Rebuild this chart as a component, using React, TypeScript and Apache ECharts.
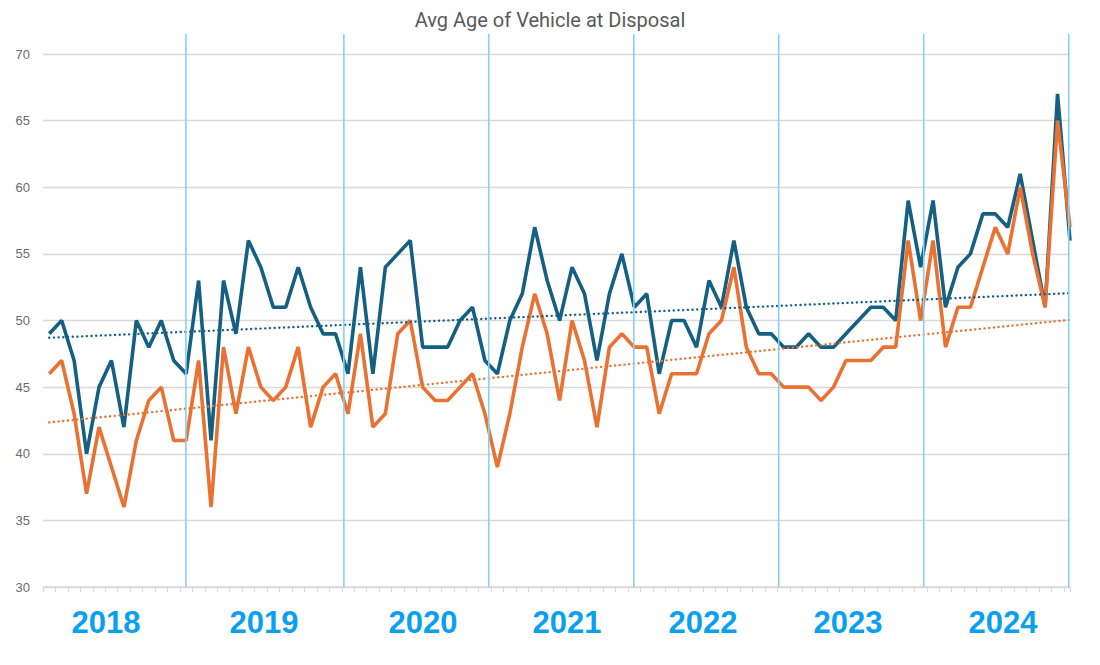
import { useEffect, useRef } from "react";
import * as echarts from "echarts";

// ---- data ----
const titleText = "Avg Age of Vehicle at Disposal";
const yearLabels = ["2018", "2019", "2020", "2021", "2022", "2023", "2024"];
const yTicks = [30, 35, 40, 45, 50, 55, 60, 65, 70];

// monthly values, Jan 2018 onward
const seriesA = [
  49, 50, 47, 40, 45, 47, 42, 50, 48, 50, 47, 46,
  53, 41, 53, 49, 56, 54, 51, 51, 54, 51, 49, 49,
  46, 54, 46, 54, 55, 56, 48, 48, 48, 50, 51, 47,
  46, 50, 52, 57, 53, 50, 54, 52, 47, 52, 55, 51,
  52, 46, 50, 50, 48, 53, 51, 56, 51, 49, 49, 48,
  48, 49, 48, 48, 49, 50, 51, 51, 50, 59, 54, 59,
  51, 54, 55, 58, 58, 57, 61, 56, 51, 67, 56,
];
const seriesB = [
  46, 47, 43, 37, 42, 39, 36, 41, 44, 45, 41, 41,
  47, 36, 48, 43, 48, 45, 44, 45, 48, 42, 45, 46,
  43, 49, 42, 43, 49, 50, 45, 44, 44, 45, 46, 43,
  39, 43, 48, 52, 49, 44, 50, 47, 42, 48, 49, 48,
  48, 43, 46, 46, 46, 49, 50, 54, 48, 46, 46, 45,
  45, 45, 44, 45, 47, 47, 47, 48, 48, 56, 50, 56,
  48, 51, 51, 54, 57, 55, 60, 55, 51, 65, 57,
];

// dotted trend lines as drawn in the original: [start value, end value]
const trendA = [48.7, 52.05];
const trendB = [42.35, 50.05];

// ---- layout (decorations placed by hand in the original) ----
const dividerAt = [11.48, 24.17, 35.81, 47.46, 59.1, 70.75, 82.4]; // in x-axis units
const yearLabelX = [106, 264, 423, 567, 703, 848, 1003];
const yearLabelY = 622;

const BLUE = "#156082";
const ORANGE = "#E97132";

function toPoints(vals: number[]) {
  return vals.map((v, i) => [i + 0.5, v]);
}

function trendPoints(ends: number[], n: number) {
  return [
    [0.5, ends[0]],
    [n - 0.5, ends[1]],
  ];
}

export default function App() {
  const ref = useRef<HTMLDivElement>(null);

  useEffect(() => {
    if (!ref.current) return;
    const chart = echarts.init(ref.current, null, { renderer: "svg" });
    const n = seriesA.length;
    chart.setOption({
      animation: false,
      backgroundColor: "#ffffff",
      title: {
        text: titleText,
        left: "center",
        top: 5,
        textStyle: {
          fontFamily: "Roboto",
          fontSize: 20,
          fontWeight: "normal",
          color: "#595959",
        },
      },
      grid: { left: 43, right: 30, top: 54, bottom: 78 },
      xAxis: {
        type: "value",
        min: 0,
        max: n - 0.5,
        interval: 1,
        axisLine: { show: true, lineStyle: { color: "#d9d9d9", width: 1.5 } },
        axisTick: { show: true, length: 5, lineStyle: { color: "#d9d9d9", width: 1 } },
        axisLabel: { show: false },
        splitLine: { show: false },
      },
      yAxis: {
        type: "value",
        min: yTicks[0],
        max: yTicks[yTicks.length - 1],
        interval: 5,
        axisLine: { show: false },
        axisTick: { show: false },
        axisLabel: {
          color: "#6b6b6b",
          fontSize: 13,
          fontFamily: "Liberation Sans",
          margin: 13,
        },
        splitLine: { lineStyle: { color: "#d9d9d9", width: 1.3 } },
      },
      series: [
        {
          type: "line",
          name: "A",
          data: toPoints(seriesA),
          symbol: "none",
          lineStyle: { color: BLUE, width: 3.6 },
          z: 2,
        },
        {
          type: "line",
          name: "B",
          data: toPoints(seriesB),
          symbol: "none",
          lineStyle: { color: ORANGE, width: 3.6 },
          z: 3,
        },
        {
          type: "line",
          name: "A trend",
          data: trendPoints(trendA, n),
          symbol: "none",
          lineStyle: { color: BLUE, width: 2.4, type: [0.1, 4.6], cap: "round" },
          z: 4,
        },
        {
          type: "line",
          name: "B trend",
          data: trendPoints(trendB, n),
          symbol: "none",
          lineStyle: { color: ORANGE, width: 2.4, type: [0.1, 4.6], cap: "round" },
          z: 4,
        },
      ],
    });

    const yBottom = chart.convertToPixel({ yAxisIndex: 0 }, yTicks[0]) as number;
    const graphics: any[] = [];
    dividerAt.forEach((v) => {
      const px = chart.convertToPixel({ xAxisIndex: 0 }, v) as number;
      graphics.push({
        type: "line",
        shape: { x1: px, y1: 34, x2: px, y2: yBottom },
        style: { stroke: "#86d0f5", lineWidth: 1.6 },
        z: 50,
      });
    });
    yearLabels.forEach((t, i) => {
      graphics.push({
        type: "text",
        x: yearLabelX[i],
        y: yearLabelY,
        style: {
          text: t,
          fill: "#0aa0f0",
          font: 'bold 31px "Liberation Sans"',
          textAlign: "center",
          textVerticalAlign: "middle",
        },
        z: 50,
      });
    });
    chart.setOption({ graphic: graphics });

    return () => chart.dispose();
  }, []);

  return (
    <div
      ref={ref}
      style={{ position: "fixed", left: 0, top: 0, width: 1100, height: 665 }}
    />
  );
}
